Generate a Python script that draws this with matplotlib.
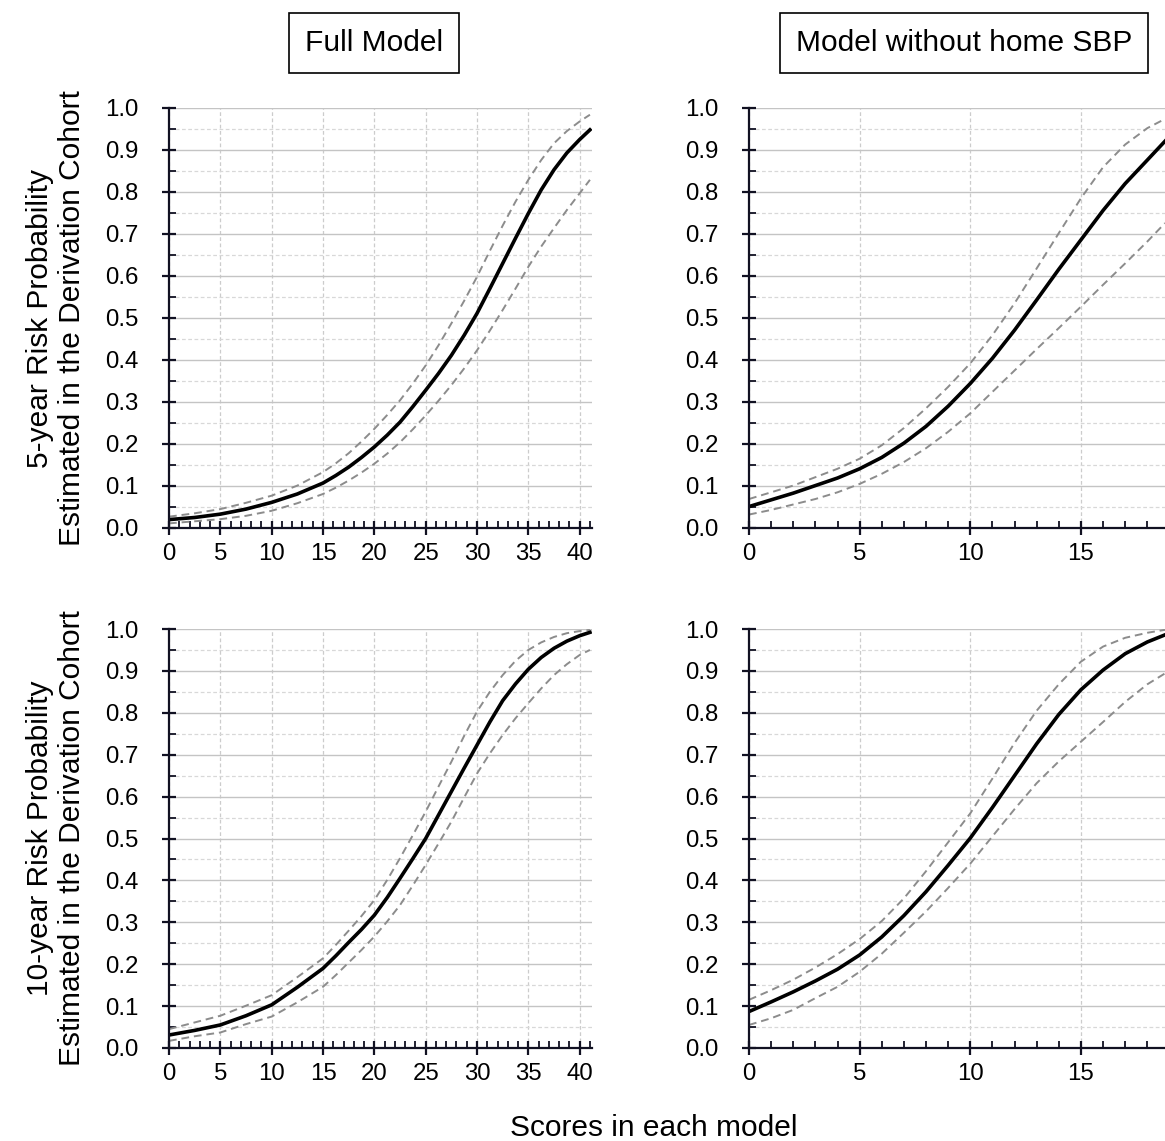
import numpy as np
import matplotlib
matplotlib.use("Agg")
import matplotlib.pyplot as plt
from matplotlib.ticker import MultipleLocator, FormatStrFormatter

plt.rcParams['font.family'] = ['Liberation Sans', 'DejaVu Sans']

# Scores (x)
x_full = [0, 2.5, 5, 7.5, 10, 12.5, 15, 16.25, 17.5, 18.75, 20, 21.25, 22.5, 23.75,
          25, 26.25, 27.5, 28.75, 30, 31.25, 32.5, 33.75, 35, 36.25, 37.5, 38.75, 40, 41]
x_nohome = [0, 1, 2, 3, 4, 5, 6, 7, 8, 9, 10, 11, 12, 13, 14, 15, 16, 17, 18, 18.8]

# 5-year, full model (estimate, upper and lower limits)
p5_full = [0.020, 0.025, 0.033, 0.045, 0.061, 0.081, 0.107, 0.125, 0.145, 0.168, 0.193, 0.221, 0.252, 0.289,
           0.328, 0.368, 0.411, 0.459, 0.511, 0.570, 0.630, 0.690, 0.749, 0.805, 0.853, 0.893, 0.925, 0.948]
p5_full_hi = [0.027, 0.035, 0.045, 0.060, 0.077, 0.101, 0.133, 0.154, 0.178, 0.206, 0.236, 0.269, 0.304, 0.344,
              0.387, 0.435, 0.487, 0.541, 0.598, 0.660, 0.720, 0.777, 0.829, 0.876, 0.916, 0.945, 0.968, 0.984]
p5_full_lo = [0.011, 0.016, 0.021, 0.029, 0.041, 0.059, 0.081, 0.096, 0.113, 0.132, 0.153, 0.177, 0.204, 0.235,
              0.268, 0.303, 0.340, 0.380, 0.423, 0.470, 0.519, 0.570, 0.622, 0.670, 0.714, 0.757, 0.797, 0.829]

# 5-year, model without home SBP
p5_nh = [0.051, 0.067, 0.083, 0.101, 0.119, 0.141, 0.168, 0.202, 0.242, 0.290,
         0.344, 0.404, 0.471, 0.543, 0.616, 0.686, 0.756, 0.820, 0.876, 0.921]
p5_nh_hi = [0.069, 0.085, 0.101, 0.121, 0.141, 0.165, 0.197, 0.238, 0.285, 0.336,
            0.392, 0.459, 0.535, 0.618, 0.702, 0.785, 0.859, 0.913, 0.952, 0.974]
p5_nh_lo = [0.032, 0.043, 0.056, 0.069, 0.085, 0.105, 0.129, 0.157, 0.190, 0.229,
            0.273, 0.324, 0.375, 0.426, 0.476, 0.527, 0.579, 0.630, 0.682, 0.726]

# 10-year, full model
p10_full = [0.031, 0.042, 0.055, 0.077, 0.103, 0.145, 0.190, 0.220, 0.252, 0.283, 0.317, 0.359, 0.405, 0.452,
            0.500, 0.556, 0.612, 0.668, 0.723, 0.778, 0.829, 0.869, 0.904, 0.932, 0.954, 0.971, 0.984, 0.992]
p10_full_hi = [0.045, 0.061, 0.077, 0.101, 0.126, 0.169, 0.214, 0.246, 0.280, 0.315, 0.353, 0.401, 0.453, 0.508,
               0.564, 0.624, 0.683, 0.745, 0.803, 0.850, 0.890, 0.924, 0.950, 0.968, 0.981, 0.990, 0.995, 0.998]
p10_full_lo = [0.017, 0.028, 0.037, 0.057, 0.075, 0.109, 0.146, 0.174, 0.204, 0.234, 0.266, 0.302, 0.341, 0.388,
               0.437, 0.488, 0.540, 0.598, 0.655, 0.703, 0.747, 0.787, 0.823, 0.858, 0.890, 0.916, 0.938, 0.950]

# 10-year, model without home SBP
p10_nh = [0.087, 0.110, 0.134, 0.160, 0.188, 0.222, 0.265, 0.316, 0.373, 0.436,
          0.501, 0.574, 0.650, 0.726, 0.796, 0.855, 0.902, 0.941, 0.969, 0.986]
p10_nh_hi = [0.115, 0.138, 0.163, 0.192, 0.224, 0.260, 0.303, 0.357, 0.422, 0.491,
             0.560, 0.643, 0.728, 0.805, 0.868, 0.922, 0.958, 0.979, 0.991, 0.998]
p10_nh_lo = [0.055, 0.071, 0.091, 0.119, 0.146, 0.182, 0.225, 0.275, 0.326, 0.382,
             0.440, 0.505, 0.570, 0.632, 0.684, 0.731, 0.778, 0.826, 0.868, 0.894]

titles = ["Full Model", "Model without home SBP"]
ylabels = ["5-year Risk Probability\nEstimated in the Derivation Cohort",
           "10-year Risk Probability\nEstimated in the Derivation Cohort"]
xlabel = "Scores in each model"

fig = plt.figure(figsize=(11.65, 11.41), dpi=100)
W, H = 1165.0, 1141.0


def px_axes(l, r, t, b):
    # axes placed by pixel edges of the reference
    return fig.add_axes([l / W, 1 - b / H, (r - l) / W, (b - t) / H])


ax_tl = px_axes(169, 592, 108, 528)
ax_tr = px_axes(749, 1165, 108, 528)
ax_bl = px_axes(169, 592, 629, 1048)
ax_br = px_axes(749, 1165, 629, 1048)

panels = [
    (ax_tl, x_full, p5_full, p5_full_hi, p5_full_lo, 41.2),
    (ax_tr, x_nohome, p5_nh, p5_nh_hi, p5_nh_lo, 18.8),
    (ax_bl, x_full, p10_full, p10_full_hi, p10_full_lo, 41.2),
    (ax_br, x_nohome, p10_nh, p10_nh_hi, p10_nh_lo, 18.8),
]

axcol = '#111122'
for ax, xs, mid, hi, lo, xmax in panels:
    ax.plot(xs, hi, color='#8c8c8c', lw=1.4, ls=(0, (4, 2.5)), zorder=3)
    ax.plot(xs, lo, color='#8c8c8c', lw=1.4, ls=(0, (4, 2.5)), zorder=3)
    ax.plot(xs, mid, color='black', lw=2.6, zorder=4)
    ax.set_xlim(0, xmax)
    ax.set_ylim(0, 1.0)
    ax.yaxis.set_major_locator(MultipleLocator(0.1))
    ax.yaxis.set_minor_locator(MultipleLocator(0.05))
    ax.xaxis.set_major_locator(MultipleLocator(5))
    ax.xaxis.set_minor_locator(MultipleLocator(1))
    ax.yaxis.set_major_formatter(FormatStrFormatter('%.1f'))
    ax.grid(which='major', axis='y', color='#c4c4c4', lw=1.0, ls='-')
    ax.grid(which='minor', axis='y', color='#d8d8d8', lw=0.9, ls=(0, (3, 2)))
    ax.grid(which='major', axis='x', color='#cccccc', lw=0.9, ls=(0, (3, 2)))
    ax.set_axisbelow(True)
    for s in ['top', 'right']:
        ax.spines[s].set_visible(False)
    for s in ['left', 'bottom']:
        ax.spines[s].set_color(axcol)
        ax.spines[s].set_linewidth(1.6)
        ax.spines[s].set_zorder(5)
    ax.tick_params(axis='both', which='major', direction='inout', length=10,
                   width=1.6, color=axcol, labelsize=17.3)
    ax.tick_params(axis='both', which='minor', direction='in', length=5,
                   width=1.3, color=axcol)
    ax.tick_params(axis='y', which='major', pad=17)
    ax.tick_params(axis='x', which='major', pad=6)
    ax.patch.set_alpha(0)

# panel headers in boxes
fig.text(374 / W, 1 - 43 / H, titles[0], ha='center', va='center', fontsize=21.5,
         bbox=dict(boxstyle='square,pad=0.52', fc='white', ec='black', lw=1.2))
fig.text(964 / W, 1 - 43 / H, titles[1], ha='center', va='center', fontsize=21.5,
         bbox=dict(boxstyle='square,pad=0.52', fc='white', ec='black', lw=1.2))

# row labels
fig.text(56 / W, 1 - 318 / H, ylabels[0], rotation=90, ha='center', va='center',
         fontsize=21.5, multialignment='center')
fig.text(56 / W, 1 - 838 / H, ylabels[1], rotation=90, ha='center', va='center',
         fontsize=21.5, multialignment='center')

fig.text(654 / W, 1 - 1128 / H, xlabel, ha='center', va='center', fontsize=21.5)

fig.savefig("out.png", dpi=100)
